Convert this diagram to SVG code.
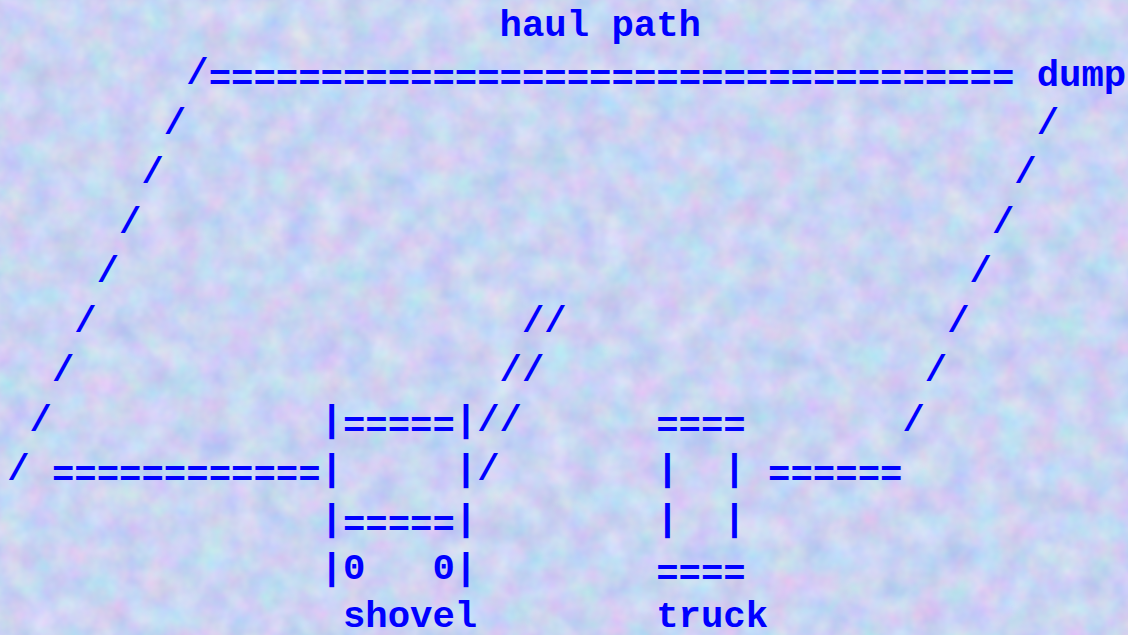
<svg xmlns="http://www.w3.org/2000/svg" width="1128" height="635" viewBox="0 0 1128 635">
  <style>
    text { font-family: "Liberation Mono", "Courier New", monospace; font-weight: bold; font-size: 37.3px; fill: #0000ff; white-space: pre; }
  </style>
  <defs>
    <filter id="tex" x="0" y="0" width="100%" height="100%" color-interpolation-filters="sRGB">
      <feTurbulence type="fractalNoise" baseFrequency="0.035" numOctaves="3" seed="7" result="n"/>
      <feColorMatrix in="n" type="matrix" values="0.26 0 0 0 0.66  0 0.20 0 0 0.73  0 0 0.10 0 0.90  0 0 0 0 1"/>
    </filter>
  </defs>
  <rect width="1128" height="635" fill="#c9d4f4"/>
  <rect width="1128" height="635" filter="url(#tex)"/>

  <g id="connectors">
    <text x="186.24" y="84.45" xml:space="preserve">/<tspan dy="6">====================================</tspan></text>
    <text x="163.86" y="133.9">/</text>
    <text x="141.48" y="183.35">/</text>
    <text x="119.1" y="232.8">/</text>
    <text x="96.72" y="282.25">/</text>
    <text x="74.34" y="331.7">/</text>
    <text x="51.96" y="381.15">/</text>
    <text x="29.58" y="430.6">/</text>
    <text x="7.2" y="480.05" xml:space="preserve">/ <tspan dy="6">============</tspan></text>
    <text x="1036.68" y="133.9">/</text>
    <text x="1014.3" y="183.35">/</text>
    <text x="991.92" y="232.8">/</text>
    <text x="969.54" y="282.25">/</text>
    <text x="947.16" y="331.7">/</text>
    <text x="924.78" y="381.15">/</text>
    <text x="902.4" y="430.6">/</text>
    <text x="521.94" y="331.7">//</text>
    <text x="499.56" y="381.15">//</text>
    <text x="477.18" y="430.6">//</text>
    <text x="477.18" y="480.05">/</text>
    <text x="768.12" y="486.05">======</text>
  </g>

  <g id="haul-path">
    <text x="499.56" y="36" xml:space="preserve">haul path</text>
  </g>

  <g id="dump">
    <text x="1036.68" y="85.5">dump</text>
  </g>

  <g id="shovel">
    <text x="320.52" y="430.6">|<tspan dy="6">=====</tspan><tspan dy="-6">|</tspan></text>
    <text x="320.52" y="480.05" xml:space="preserve">|     |</text>
    <text x="320.52" y="529.5">|<tspan dy="6">=====</tspan><tspan dy="-6">|</tspan></text>
    <text x="320.52" y="578.95" xml:space="preserve">|0   0|</text>
    <text x="342.9" y="627">shovel</text>
  </g>

  <g id="truck">
    <text x="656.22" y="436.6">====</text>
    <text x="656.22" y="480.05" xml:space="preserve">|  |</text>
    <text x="656.22" y="529.5" xml:space="preserve">|  |</text>
    <text x="656.22" y="584.95">====</text>
    <text x="656.22" y="627">truck</text>
  </g>
</svg>
